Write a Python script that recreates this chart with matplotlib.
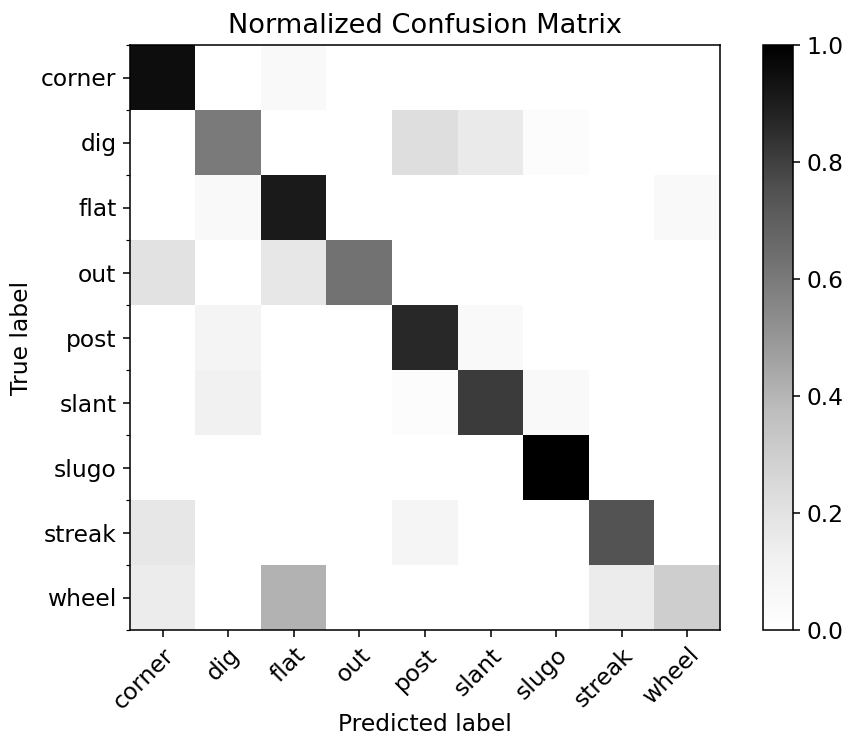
import numpy as np
import matplotlib
matplotlib.use("Agg")
import matplotlib.pyplot as plt

classes = ["corner", "dig", "flat", "out", "post", "slant", "slugo", "streak", "wheel"]
row_corner = [0.95, 0.0, 0.05, 0.0, 0.0, 0.0, 0.0, 0.0, 0.0]
row_dig    = [0.0, 0.60, 0.0, 0.0, 0.22, 0.16, 0.02, 0.0, 0.0]
row_flat   = [0.0, 0.045, 0.91, 0.0, 0.0, 0.0, 0.0, 0.0, 0.045]
row_out    = [0.20, 0.0, 0.175, 0.625, 0.0, 0.0, 0.0, 0.0, 0.0]
row_post   = [0.0, 0.09, 0.0, 0.0, 0.865, 0.045, 0.0, 0.0, 0.0]
row_slant  = [0.0, 0.115, 0.0, 0.0, 0.025, 0.81, 0.05, 0.0, 0.0]
row_slugo  = [0.0, 0.0, 0.0, 0.0, 0.0, 0.0, 1.0, 0.0, 0.0]
row_streak = [0.17, 0.0, 0.0, 0.0, 0.085, 0.0, 0.0, 0.745, 0.0]
row_wheel  = [0.145, 0.0, 0.41, 0.0, 0.0, 0.0, 0.0, 0.145, 0.30]

cm = np.array([row_corner, row_dig, row_flat, row_out, row_post,
               row_slant, row_slugo, row_streak, row_wheel])

DPI = 140
fig = plt.figure(figsize=(845 / DPI, 742 / DPI), dpi=DPI)
ax = fig.add_axes([130 / 845, 1 - 630 / 742, 590 / 845, 585 / 742])
im = ax.imshow(cm, interpolation="nearest", cmap=plt.cm.Greys, vmin=0, vmax=1,
               aspect="auto")
ax.set_title("Normalized Confusion Matrix", fontsize=14)
ticks = np.arange(len(classes))
ax.set_xticks(ticks)
ax.set_xticklabels(classes, rotation=45, ha="right", rotation_mode="anchor",
                   fontsize=12)
ax.set_yticks(ticks)
ax.set_yticklabels(classes, fontsize=12)
ax.set_yticks(np.arange(-0.5, len(classes), 1.0), minor=True)
ax.tick_params(axis="y", which="minor", length=2)
ax.set_xlabel("Predicted label", fontsize=12, labelpad=0)
ax.set_ylabel("True label", fontsize=12)

cax = fig.add_axes([763 / 845, 1 - 630 / 742, 30 / 845, 585 / 742])
cb = fig.colorbar(im, cax=cax)
cb.set_ticks([0.0, 0.2, 0.4, 0.6, 0.8, 1.0])
cb.ax.tick_params(labelsize=12)

fig.savefig("out.png", dpi=DPI)
